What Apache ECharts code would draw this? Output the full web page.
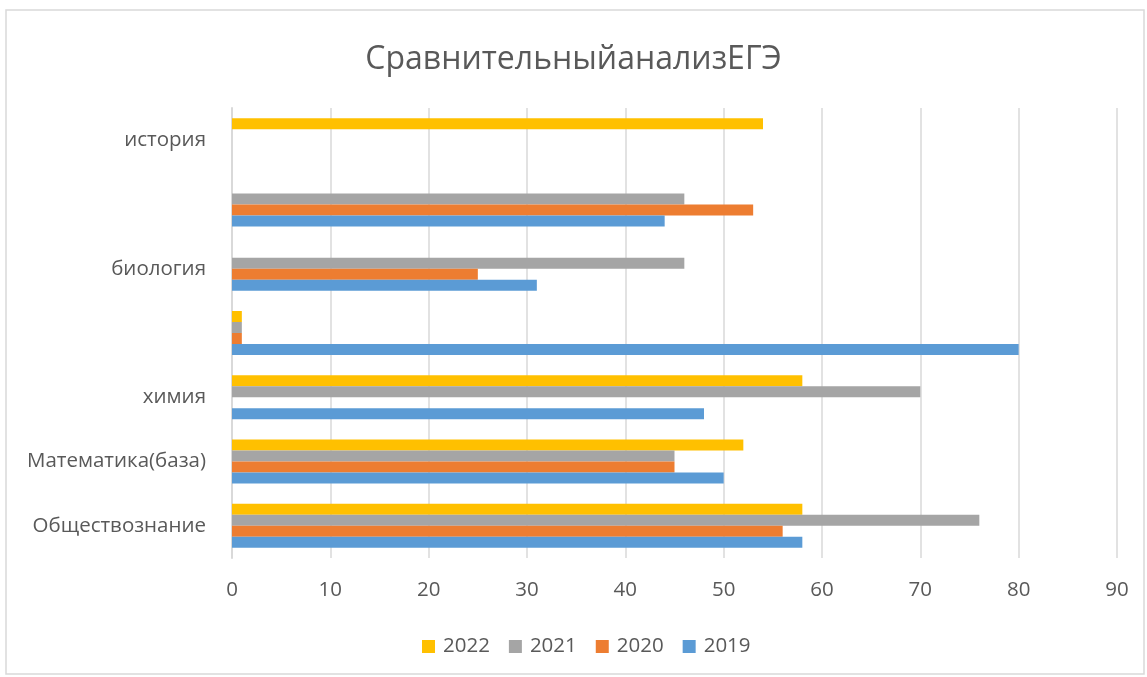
<!DOCTYPE html>
<html>
<head>
<meta charset="utf-8">
<script src="https://cdn.jsdelivr.net/npm/echarts@6/dist/echarts.min.js"></script>
<style>
  html, body { margin: 0; padding: 0; background: #fff; }
  #chart { width: 1147px; height: 677px; }
</style>
</head>
<body>
<div id="chart"></div>
<script>
// категории снизу вверх
var categories = ['Обществознание', 'Математика(база)', 'химия', '', 'биология', '', 'история']
var years = ['2022', '2021', '2020', '2019']
var y2019 = [58, 50, 48, 80, 31, 44, null]
var y2020 = [56, 45, null, 1, 25, 53, null]
var y2021 = [76, 45, 70, 1, 46, 46, null]
var y2022 = [58, 52, 58, 1, null, null, 54]
var xTicks = [0, 10, 20, 30, 40, 50, 60, 70, 80, 90]

var colors = {
  '2022': '#FFC000',
  '2021': '#A5A5A5',
  '2020': '#ED7D31',
  '2019': '#5B9BD5'
}
var values = { '2022': y2022, '2021': y2021, '2020': y2020, '2019': y2019 }

var font = 'Open Sans'
var textColor = '#595959'

var myChart = echarts.init(document.getElementById('chart'))

var option = {
  animation: false,
  backgroundColor: '#fff',
  graphic: [{
    type: 'rect',
    shape: { x: 6, y: 10, width: 1138, height: 664 },
    style: { fill: 'none', stroke: '#D9D9D9', lineWidth: 1.5 },
    silent: true
  }],
  title: {
    text: 'СравнительныйанализЕГЭ',
    left: 'center',
    top: 39,
    textStyle: { fontFamily: font, fontSize: 32, fontWeight: 'normal', color: textColor }
  },
  legend: {
    data: years,
    bottom: 15,
    left: 417,
    itemWidth: 13,
    itemHeight: 13,
    itemGap: 19,
    icon: 'rect',
    textStyle: { fontFamily: font, fontSize: 20.5, color: textColor, padding: [0, 0, 0, 3] }
  },
  grid: { left: 232, right: 30, top: 108, bottom: 119 },
  xAxis: {
    type: 'value',
    min: xTicks[0],
    max: xTicks[xTicks.length - 1],
    interval: 10,
    axisLine: { show: false },
    axisTick: { show: false },
    splitLine: { lineStyle: { color: '#D9D9D9', width: 1.5 } },
    axisLabel: { fontFamily: font, fontSize: 20.5, color: textColor, margin: 22 }
  },
  yAxis: {
    type: 'category',
    data: categories,
    axisLine: { show: true, lineStyle: { color: '#D9D9D9', width: 2 } },
    axisTick: { show: false },
    axisLabel: { fontFamily: font, fontSize: 20.5, color: textColor, margin: 26, padding: [6, 0, 0, 0] }
  },
  series: years.map(function (y) {
    return {
      name: y,
      type: 'bar',
      data: values[y],
      barWidth: 11,
      barGap: '0%',
      itemStyle: { color: colors[y] }
    }
  })
}

myChart.setOption(option)
</script>
</body>
</html>
